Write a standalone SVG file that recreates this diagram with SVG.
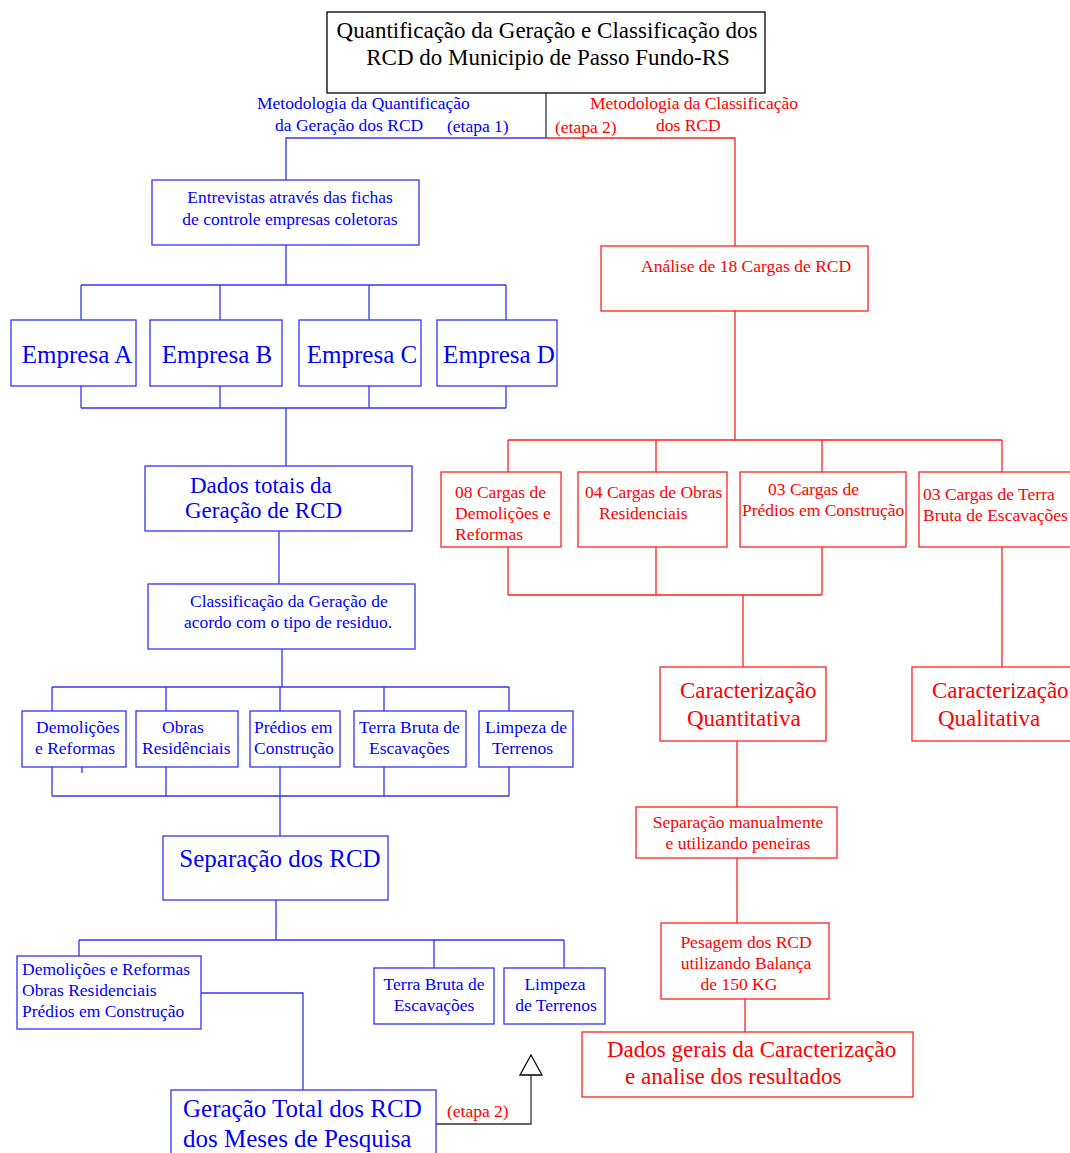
<svg xmlns="http://www.w3.org/2000/svg" width="1070" height="1153" viewBox="0 0 1070 1153">
<style>
text{font-family:"Liberation Serif","Times New Roman",serif;}
.s{font-size:17.5px;}
.b{font-size:23px;}
.e{font-size:25px;}
.bt{fill:#0000ff;}
.rt{fill:#ff0000;}
.kt{fill:#000;}
.bb{fill:#fff;stroke:#3333ff;stroke-width:1.3;}
.rb{fill:#fff;stroke:#ff2020;stroke-width:1.3;}
.kb{fill:#fff;stroke:#000;stroke-width:1.3;}
.bl{fill:none;stroke:#3333ff;stroke-width:1.3;}
.rl{fill:none;stroke:#ff2020;stroke-width:1.3;}
.kl{fill:none;stroke:#333;stroke-width:1.3;}
</style>
<rect width="1070" height="1153" fill="#fff"/>
<g id="connectors">
  <path class="kl" d="M546,93 V138"/>
  <path class="bl" d="M546,138 H286 V180"/>
  <path class="rl" d="M546,138 H735 V246"/>
  <path class="bl" d="M286,245 V285 M81,285 H506 M81,285 V320 M220,285 V320 M369,285 V320 M506,285 V320"/>
  <path class="bl" d="M81,386 V408 M220,386 V408 M369,386 V408 M506,386 V408 M81,408 H506 M286,408 V466"/>
  <path class="bl" d="M279,531 V584"/>
  <path class="bl" d="M282,649 V687 M52,687 H509 M52,687 V711 M166,687 V711 M280,687 V711 M384,687 V711 M509,687 V711"/>
  <path class="bl" d="M52,767 V796 M166,767 V796 M384,767 V796 M509,767 V796 M52,796 H509 M82,767 V773 M280,767 V836"/>
  <path class="bl" d="M276,900 V940 M79,940 H564 M79,940 V956 M434,940 V968 M564,940 V968"/>
  <path class="bl" d="M201,993 H303 V1090"/>
  <path class="kl" d="M436,1124 H531 V1075"/>
  <polygon points="531,1055 520,1075 542,1075" fill="#fff" stroke="#000" stroke-width="1.3"/>
  <path class="rl" d="M735,311 V440 M508,440 H1002 M508,440 V472 M656,440 V472 M822,440 V472 M1002,440 V472"/>
  <path class="rl" d="M508,547 V595 M656,547 V595 M822,547 V595 M508,595 H822 M743,595 V667 M1002,547 V667"/>
  <path class="rl" d="M737,741 V807 M737,858 V923 M745,999 V1032"/>
</g>
<g id="labels">
  <text class="s bt" x="257" y="109">Metodologia da Quantificação</text>
  <text class="s bt" x="275" y="131">da Geração dos RCD</text>
  <text class="s bt" x="447" y="132">(etapa 1)</text>
  <text class="s rt" x="590" y="109">Metodologia da Classificação</text>
  <text class="s rt" x="656" y="131">dos RCD</text>
  <text class="s rt" x="555" y="133">(etapa 2)</text>
  <text class="s rt" x="447" y="1117">(etapa 2)</text>
</g>
<g id="title">
  <rect class="kb" x="327" y="12" width="438" height="81"/>
  <text class="b kt" x="547" y="38" text-anchor="middle">Quantificação da Geração e Classificação dos</text>
  <text class="b kt" x="548" y="65" text-anchor="middle">RCD do Municipio de Passo Fundo-RS</text>
</g>
<g id="entrevistas">
  <rect class="bb" x="152" y="180" width="267" height="65"/>
  <text class="s bt" x="290" y="203" text-anchor="middle">Entrevistas através das fichas</text>
  <text class="s bt" x="290" y="225" text-anchor="middle">de controle empresas coletoras</text>
</g>
<g id="empresaA">
  <rect class="bb" x="11" y="320" width="125" height="66"/>
  <text class="e bt" x="77" y="363" text-anchor="middle">Empresa A</text>
</g>
<g id="empresaB">
  <rect class="bb" x="150" y="320" width="132" height="66"/>
  <text class="e bt" x="217" y="363" text-anchor="middle">Empresa B</text>
</g>
<g id="empresaC">
  <rect class="bb" x="299" y="320" width="122" height="66"/>
  <text class="e bt" x="362" y="363" text-anchor="middle">Empresa C</text>
</g>
<g id="empresaD">
  <rect class="bb" x="437" y="320" width="120" height="66"/>
  <text class="e bt" x="499" y="363" text-anchor="middle">Empresa D</text>
</g>
<g id="dadosTotais">
  <rect class="bb" x="145" y="466" width="267" height="65"/>
  <text class="b bt" x="190" y="493">Dados totais da</text>
  <text class="b bt" x="185" y="518">Geração de RCD</text>
</g>
<g id="classificacao">
  <rect class="bb" x="148" y="584" width="267" height="65"/>
  <text class="s bt" x="190" y="607">Classificação da Geração de</text>
  <text class="s bt" x="184" y="628">acordo com o tipo de residuo.</text>
</g>
<g id="demolicoes1">
  <rect class="bb" x="22" y="711" width="104" height="56"/>
  <text class="s bt" x="36" y="733">Demolições</text>
  <text class="s bt" x="35" y="754">e Reformas</text>
</g>
<g id="obras1">
  <rect class="bb" x="136" y="711" width="102" height="56"/>
  <text class="s bt" x="162" y="733">Obras</text>
  <text class="s bt" x="142" y="754">Residênciais</text>
</g>
<g id="predios1">
  <rect class="bb" x="250" y="711" width="90" height="56"/>
  <text class="s bt" x="254" y="733">Prédios em</text>
  <text class="s bt" x="254" y="754">Construção</text>
</g>
<g id="terra1">
  <rect class="bb" x="354" y="711" width="112" height="56"/>
  <text class="s bt" x="359" y="733">Terra Bruta de</text>
  <text class="s bt" x="369" y="754">Escavações</text>
</g>
<g id="limpeza1">
  <rect class="bb" x="479" y="711" width="94" height="56"/>
  <text class="s bt" x="485" y="733">Limpeza de</text>
  <text class="s bt" x="492" y="754">Terrenos</text>
</g>
<g id="separacao">
  <rect class="bb" x="163" y="836" width="225" height="64"/>
  <text class="e bt" x="280" y="867" text-anchor="middle">Separação dos RCD</text>
</g>
<g id="grupoDemolicoes">
  <rect class="bb" x="17" y="956" width="184" height="73"/>
  <text class="s bt" x="22" y="975">Demolições e Reformas</text>
  <text class="s bt" x="22" y="996">Obras Residenciais</text>
  <text class="s bt" x="22" y="1017">Prédios em Construção</text>
</g>
<g id="terra2">
  <rect class="bb" x="374" y="968" width="120" height="56"/>
  <text class="s bt" x="434" y="990" text-anchor="middle">Terra Bruta de</text>
  <text class="s bt" x="434" y="1011" text-anchor="middle">Escavações</text>
</g>
<g id="limpeza2">
  <rect class="bb" x="504" y="968" width="101" height="56"/>
  <text class="s bt" x="555" y="990" text-anchor="middle">Limpeza</text>
  <text class="s bt" x="556" y="1011" text-anchor="middle">de Terrenos</text>
</g>
<g id="geracaoTotal">
  <rect class="bb" x="171" y="1090" width="265" height="70"/>
  <text class="e bt" x="183" y="1117">Geração Total dos RCD</text>
  <text class="e bt" x="183" y="1147">dos Meses de Pesquisa</text>
</g>
<g id="analise">
  <rect class="rb" x="601" y="246" width="267" height="65"/>
  <text class="s rt" x="641" y="272">Análise de 18 Cargas de RCD</text>
</g>
<g id="cargas08">
  <rect class="rb" x="441" y="472" width="120" height="75"/>
  <text class="s rt" x="455" y="498">08 Cargas de</text>
  <text class="s rt" x="455" y="519">Demolições e</text>
  <text class="s rt" x="455" y="540">Reformas</text>
</g>
<g id="cargas04">
  <rect class="rb" x="578" y="472" width="149" height="75"/>
  <text class="s rt" x="585" y="498">04 Cargas de Obras</text>
  <text class="s rt" x="599" y="519">Residenciais</text>
</g>
<g id="cargas03p">
  <rect class="rb" x="740" y="472" width="166" height="75"/>
  <text class="s rt" x="768" y="495">03 Cargas de</text>
  <text class="s rt" x="742" y="516">Prédios em Construção</text>
</g>
<g id="cargas03t">
  <rect class="rb" x="919" y="472" width="160" height="75"/>
  <text class="s rt" x="923" y="500">03 Cargas de Terra</text>
  <text class="s rt" x="923" y="521">Bruta de Escavações</text>
</g>
<g id="quantitativa">
  <rect class="rb" x="660" y="667" width="166" height="74"/>
  <text class="b rt" x="680" y="698">Caracterização</text>
  <text class="b rt" x="687" y="726">Quantitativa</text>
</g>
<g id="qualitativa">
  <rect class="rb" x="912" y="667" width="168" height="74"/>
  <text class="b rt" x="932" y="698">Caracterização</text>
  <text class="b rt" x="938" y="726">Qualitativa</text>
</g>
<g id="separacaoManual">
  <rect class="rb" x="636" y="807" width="201" height="51"/>
  <text class="s rt" x="738" y="828" text-anchor="middle">Separação manualmente</text>
  <text class="s rt" x="738" y="849" text-anchor="middle">e utilizando peneiras</text>
</g>
<g id="pesagem">
  <rect class="rb" x="661" y="923" width="168" height="76"/>
  <text class="s rt" x="746" y="948" text-anchor="middle">Pesagem dos RCD</text>
  <text class="s rt" x="746" y="969" text-anchor="middle">utilizando Balança</text>
  <text class="s rt" x="739" y="990" text-anchor="middle">de 150 KG</text>
</g>
<g id="dadosGerais">
  <rect class="rb" x="582" y="1032" width="331" height="65"/>
  <text class="b rt" x="607" y="1057">Dados gerais da Caracterização</text>
  <text class="b rt" x="625" y="1084">e analise dos resultados</text>
</g>
</svg>
